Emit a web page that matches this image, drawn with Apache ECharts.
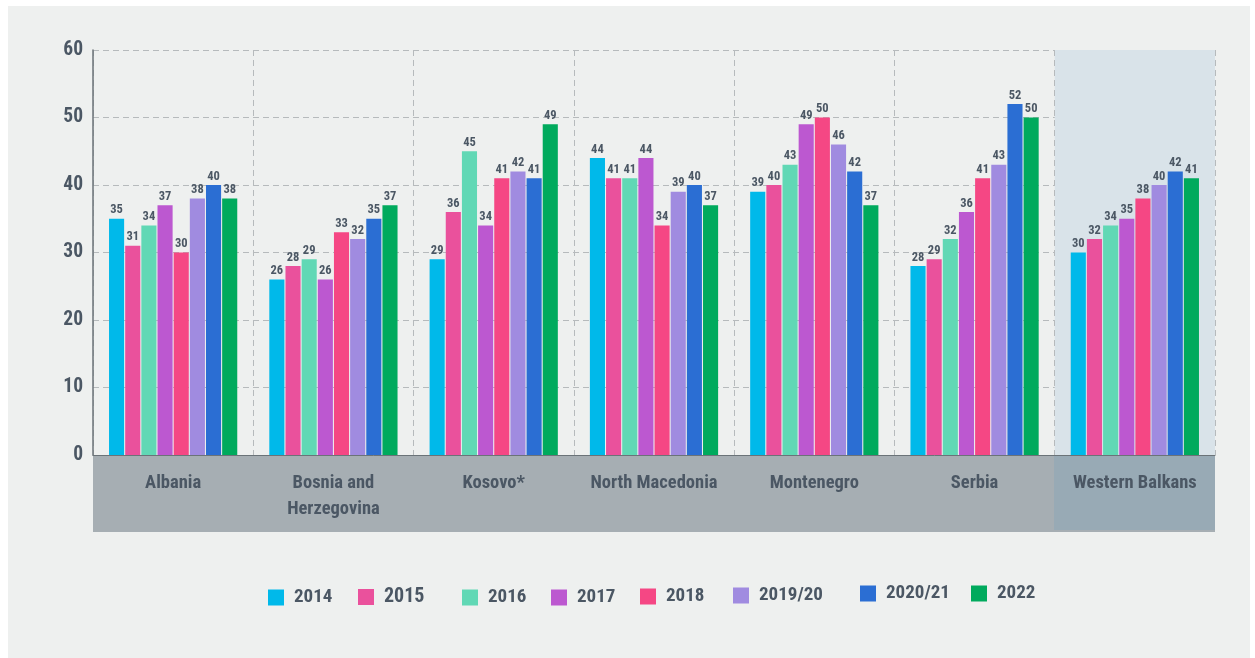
<!DOCTYPE html>
<html>
<head>
<meta charset="utf-8">
<script src="https://cdn.jsdelivr.net/npm/echarts@6/dist/echarts.min.js"></script>
<style>
  html, body { margin: 0; padding: 0; background: #ffffff; }
  #panel { position: absolute; left: 8px; top: 6px; width: 1242px; height: 652px; background: #eef0ef; }
  #chart { position: absolute; left: 0; top: 0; width: 1255px; height: 658px; }
</style>
</head>
<body>
<div id="panel"></div>
<div id="chart"></div>
<script>
const countries = ['Albania', 'Bosnia and\nHerzegovina', 'Kosovo*', 'North Macedonia', 'Montenegro', 'Serbia', 'Western Balkans']
const years = ['2014', '2015', '2016', '2017', '2018', '2019/20', '2020/21', '2022']

// one array per year, in country order
const v2014 = [35, 26, 29, 44, 39, 28, 30]
const v2015 = [31, 28, 36, 41, 40, 29, 32]
const v2016 = [34, 29, 45, 41, 43, 32, 34]
const v2017 = [37, 26, 34, 44, 49, 36, 35]
const v2018 = [30, 33, 41, 34, 50, 41, 38]
const v2019 = [38, 32, 42, 39, 46, 43, 40]
const v2020 = [40, 35, 41, 40, 42, 52, 42]
const v2022 = [38, 37, 49, 37, 37, 50, 41]
const yearValues = [v2014, v2015, v2016, v2017, v2018, v2019, v2020, v2022]

const colors = ['#00b9ea', '#ea519c', '#61d8b5', '#bc58d0', '#f54784', '#a08be0', '#2b6ed3', '#00aa5d']

const FONT = '"Roboto Condensed", "DejaVu Sans Condensed", sans-serif'
const TXT = '#4b5764'

// legend item layout (the original legend is not evenly spaced)
const legendLeft = [268, 358, 462, 551, 640, 733, 860, 971]
const legendTop = [588, 587, 588, 588, 587, 586, 584, 584]
const legendSize = [19, 20, 19, 19, 19, 19, 19, 19]

const chart = echarts.init(document.getElementById('chart'), null, { renderer: 'canvas' })

const option = {
  backgroundColor: 'transparent',
  animation: false,
  color: colors,
  grid: { left: 93, right: 40, top: 50, bottom: 203, containLabel: false },
  graphic: [
    {
      type: 'rect', z: -1, silent: true,
      shape: { x: 93, y: 455, width: 1122, height: 77 },
      style: { fill: '#a6aeb3' },
    },
    {
      type: 'rect', z: -1, silent: true,
      shape: { x: 1054, y: 455, width: 161, height: 75 },
      style: { fill: '#98aab5' },
    },
  ],
  legend: years.map((y, i) => ({
    data: [y],
    left: legendLeft[i],
    top: legendTop[i],
    icon: 'rect',
    itemWidth: 16,
    itemHeight: 16,
    itemGap: 0,
    padding: 0,
    selectedMode: false,
    textStyle: { color: TXT, fontFamily: FONT, fontWeight: 'bold', fontSize: legendSize[i], padding: [0, 0, 0, 5] },
  })),
  xAxis: {
    type: 'category',
    data: countries,
    axisLine: { lineStyle: { color: '#6b7378', width: 1 } },
    axisTick: { show: false },
    axisLabel: {
      interval: 0,
      margin: 15,
      verticalAlign: 'top',
      lineHeight: 26,
      color: TXT,
      fontFamily: FONT,
      fontWeight: 'bold',
      fontSize: 18.5,
    },
    splitLine: { show: true, interval: 0, lineStyle: { color: '#b6babc', type: [6, 4] } },
    splitArea: {
      show: true,
      interval: 0,
      areaStyle: { color: ['rgba(0,0,0,0)', 'rgba(0,0,0,0)', 'rgba(0,0,0,0)', 'rgba(0,0,0,0)', 'rgba(0,0,0,0)', 'rgba(0,0,0,0)', '#d9e3e9'] },
    },
  },
  yAxis: {
    type: 'value',
    min: 0,
    max: 60,
    interval: 10,
    axisLine: { show: true, lineStyle: { color: '#6b7378', width: 1.5 } },
    axisTick: { show: false },
    axisLabel: { margin: 10, color: TXT, fontFamily: FONT, fontWeight: 'bold', fontSize: 19.5 },
    splitLine: { lineStyle: { color: '#b6babc', type: [6, 4] } },
  },
  series: years.map((y, i) => ({
    name: y,
    type: 'bar',
    data: yearValues[i],
    barGap: '7%',
    barCategoryGap: '20%',
    itemStyle: { color: colors[i] },
    label: {
      show: true,
      position: 'top',
      distance: 2,
      color: TXT,
      fontFamily: FONT,
      fontWeight: 'bold',
      fontSize: 12.5,
    },
  })),
}

chart.setOption(option)
</script>
</body>
</html>
